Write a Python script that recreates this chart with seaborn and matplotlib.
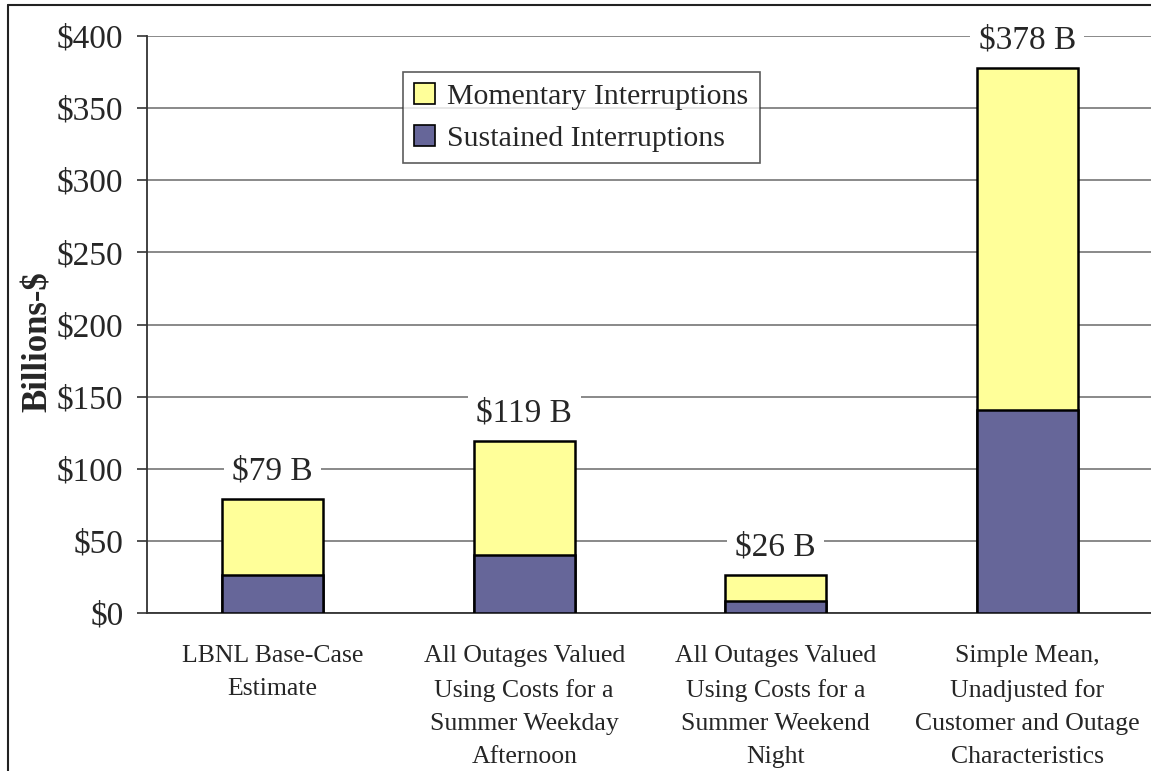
import matplotlib
matplotlib.use("Agg")
import matplotlib.pyplot as plt
import matplotlib.patches as mpatches
from matplotlib.lines import Line2D
import seaborn as sns
import numpy as np

sns.set_theme(style="white")
plt.rcParams["font.family"] = ["Liberation Serif", "DejaVu Serif"]

# data (billions of dollars)
categories = [
    "LBNL Base-Case\nEstimate",
    "All Outages Valued\nUsing Costs for a\nSummer Weekday\nAfternoon",
    "All Outages Valued\nUsing Costs for a\nSummer Weekend\nNight",
    "Simple Mean,\nUnadjusted for\nCustomer and Outage\nCharacteristics",
]
sustained = [26.3, 40.1, 8.3, 140.5]
momentary = [52.7, 78.9, 17.7, 237.5]
total_labels = ["$79 B", "$119 B", "$26 B", "$378 B"]
yticks = [0, 50, 100, 150, 200, 250, 300, 350, 400]

yellow = "#FFFF99"
purple = "#666699"

totals = [s + m for s, m in zip(sustained, momentary)]

fig = plt.figure(figsize=(11.51, 7.71), dpi=100)
# chart-area border (only left/top visible in the original crop)
fig.add_artist(Line2D([8 / 1151, 8 / 1151], [0, 1 - 5 / 771], transform=fig.transFigure,
                      color="#222222", linewidth=1.5))
fig.add_artist(Line2D([8 / 1151, 1], [1 - 5 / 771, 1 - 5 / 771], transform=fig.transFigure,
                      color="#222222", linewidth=1.5))

ax = fig.add_axes([147 / 1151, 1 - 613 / 771, 1006 / 1151, 577 / 771])

sns.barplot(x=categories, y=totals, color=yellow, width=0.4, saturation=1,
            edgecolor="black", linewidth=1.8, ax=ax, zorder=3)
sns.barplot(x=categories, y=sustained, color=purple, width=0.4, saturation=1,
            edgecolor="black", linewidth=1.8, ax=ax, zorder=3)

for i, (t, lab) in enumerate(zip(totals, total_labels)):
    ax.annotate(lab, xy=(i, t), xytext=(0, 20), textcoords="offset points",
                ha="center", va="center", fontsize=24, zorder=4,
                bbox=dict(boxstyle="square,pad=0.25", fc="white", ec="none"))

ax.set_ylim(0, 400)
ax.set_xlim(-0.5, 3.5)
ax.set_yticks(yticks)
ax.set_yticklabels([f"${v}" for v in yticks], fontsize=24)
ax.yaxis.grid(True, color="#808080", linewidth=1.3, zorder=0)
ax.set_axisbelow(True)

# x ticks: labels at centers, tick marks at category boundaries
ax.set_xticks(range(len(categories)))
ax.set_xticklabels(categories, fontsize=18.5, linespacing=1.66, va="top")
ax.set_xticks(np.arange(-0.5, 4.0, 1.0), minor=True)
ax.tick_params(axis="x", which="major", length=0, pad=23)
ax.tick_params(axis="x", which="minor", length=7, width=1.2, color="#333333", direction="out")
ax.tick_params(axis="y", length=7, width=1.2, color="#333333", direction="out", left=True, pad=10)

for side in ["top", "right"]:
    ax.spines[side].set_visible(False)
ax.spines["left"].set_color("#333333")
ax.spines["bottom"].set_color("#333333")
ax.spines["left"].set_linewidth(1.3)
ax.spines["bottom"].set_linewidth(1.3)

ax.set_ylabel("Billions-$", fontsize=25, fontweight="bold")
ax.yaxis.set_label_coords(-0.092, 0.47)
ax.set_xlabel("")

handles = [
    mpatches.Patch(facecolor=yellow, edgecolor="black", linewidth=1.2, label="Momentary Interruptions"),
    mpatches.Patch(facecolor=purple, edgecolor="black", linewidth=1.2, label="Sustained Interruptions"),
]
leg = ax.legend(handles=handles, loc="upper left", bbox_to_anchor=(0.2545, 0.938),
                fontsize=21.5, frameon=True, fancybox=False, handlelength=0.7,
                handleheight=0.7, handletextpad=0.4, borderpad=0.38, labelspacing=0.5,
                borderaxespad=0)
leg.get_frame().set_edgecolor("#333333")
leg.get_frame().set_linewidth(1.2)

fig.savefig("out.png", dpi=100)
